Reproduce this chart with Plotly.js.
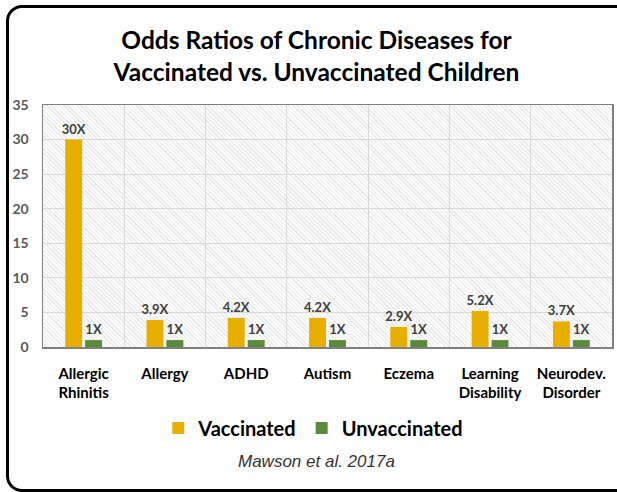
<!DOCTYPE html>
<html>
<head>
<meta charset="utf-8">
<script src="https://cdn.plot.ly/plotly-3.0.1.min.js"></script>
<style>
  html, body { margin: 0; padding: 0; background: #ffffff; }
  #wrap { position: relative; width: 617px; height: 492px; overflow: hidden; background: #fff; }
  #frame { position: absolute; left: 6px; top: 5px; width: 620px; height: 481px;
           border: 3px solid #000; border-radius: 16px; box-sizing: content-box; }
  #hatch { position: absolute; left: 43px; top: 105px; width: 569px; height: 242px;
           background: repeating-linear-gradient(45deg, #fbfbfb 0px, #fbfbfb 2px, #e9e9e9 2px, #e9e9e9 3px); }
  #chart { position: absolute; left: 0; top: 0; }
</style>
</head>
<body>
<div id="wrap">
  <div id="frame"></div>
  <div id="hatch"></div>
  <div id="chart"></div>
</div>
<script>
const categories = ["Allergic<br>Rhinitis", "Allergy", "ADHD", "Autism", "Eczema", "Learning<br>Disability", "Neurodev.<br>Disorder"];
const vaccinated = [30, 3.9, 4.2, 4.2, 2.9, 5.2, 3.7];
const unvaccinated = [1, 1, 1, 1, 1, 1, 1];
const seriesNames = ["Vaccinated", "Unvaccinated"];
const yTicks = [0, 5, 10, 15, 20, 25, 30, 35];

const labelFont = {family: "Lato, 'Open Sans', sans-serif", size: 13, color: "#404040", weight: "bold"};

const traces = [
  {
    type: "bar", name: seriesNames[0], x: categories, y: vaccinated,
    marker: {color: "#E8AE00"},
    text: vaccinated.map(v => v + "X"), textposition: "outside", cliponaxis: false,
    constraintext: "none", textfont: labelFont, outsidetextfont: labelFont, hoverinfo: "none"
  },
  {
    type: "bar", name: seriesNames[1], x: categories, y: unvaccinated,
    marker: {color: "#5B8A3A"},
    text: unvaccinated.map(v => v + "X"), textposition: "outside", cliponaxis: false,
    constraintext: "none", textfont: labelFont, outsidetextfont: labelFont, hoverinfo: "none"
  }
];

const layout = {
  width: 617, height: 492,
  margin: {l: 43, r: 5, t: 105, b: 145},
  paper_bgcolor: "rgba(0,0,0,0)",
  plot_bgcolor: "rgba(0,0,0,0)",
  title: {
    text: "Odds Ratios of Chronic Diseases for<br>Vaccinated vs. Unvaccinated Children",
    font: {family: "Lato, 'Open Sans', sans-serif", size: 24.5, color: "#000", weight: "bold"},
    x: 0.513, xanchor: "center", y: 0.9, yanchor: "middle"
  },
  barmode: "group", bargap: 0.51, bargroupgap: 0.15,
  showlegend: true,
  legend: {
    orientation: "h", x: 0.475, xanchor: "center", y: -0.335, yanchor: "middle",
    font: {family: "Lato, 'Open Sans', sans-serif", size: 20, color: "#000", weight: "bold"},
    itemwidth: 30, traceorder: "normal"
  },
  xaxis: {
    type: "category", tickson: "boundaries", showgrid: true, gridcolor: "#d9d9d9", gridwidth: 1,
    showline: true, linecolor: "#808080", linewidth: 1.5, mirror: true,
    ticks: "", ticklabelstandoff: 12,
    tickfont: {family: "Lato, 'Open Sans', sans-serif", size: 15, color: "#000", weight: "bold"},
    fixedrange: true
  },
  yaxis: {
    range: [0, 35], tickvals: yTicks, ticktext: yTicks.map(String),
    showgrid: true, gridcolor: "#d9d9d9", gridwidth: 1, zeroline: false,
    showline: true, linecolor: "#808080", linewidth: 1.5, mirror: true,
    ticks: "", ticklabelstandoff: 10,
    tickfont: {family: "Lato, 'Open Sans', sans-serif", size: 14, color: "#595959", weight: "bold"},
    fixedrange: true
  },
  annotations: [{
    text: "Mawson et al. 2017a", showarrow: false,
    xref: "paper", yref: "paper", x: 0.48, y: -0.475, xanchor: "center", yanchor: "middle",
    font: {family: "'Liberation Sans Narrow', 'Liberation Sans', sans-serif", size: 17, color: "#333333", style: "italic"}
  }]
};

Plotly.newPlot("chart", traces, layout, {displayModeBar: false, staticPlot: true});
</script>
</body>
</html>
